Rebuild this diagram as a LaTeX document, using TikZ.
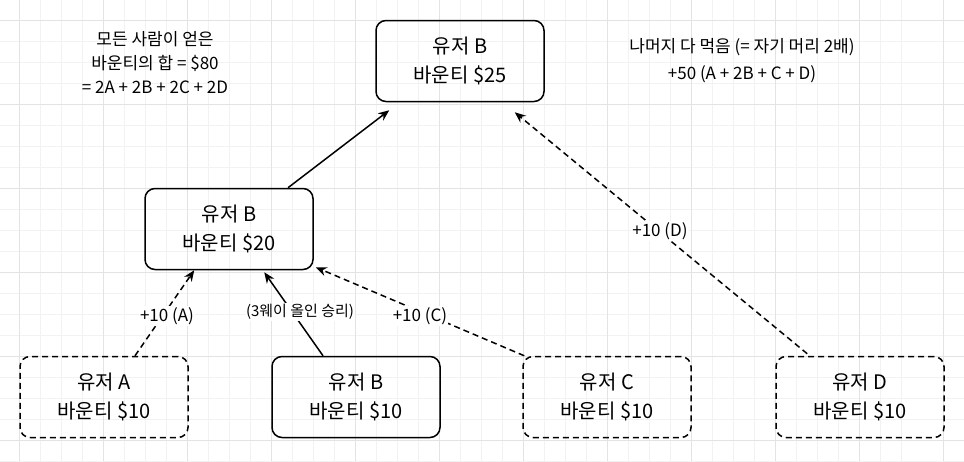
\documentclass[tikz,border=0pt]{standalone}
\usepackage{fontspec}
\setmainfont{Noto Sans CJK KR}
\usetikzlibrary{arrows.meta,calc}
\begin{document}
\begin{tikzpicture}[x=1pt,y=-1pt,
  box/.style={draw,line width=1.5pt,rounded corners=10pt,minimum width=168pt,minimum height=81pt,align=center,font=\fontsize{20}{29}\selectfont},
  dbox/.style={box,dash pattern=on 6pt off 4pt},
  arr/.style={line width=1.5pt,-{Stealth[length=11pt,width=9pt]}},
  darr/.style={arr,dash pattern=on 6pt off 4pt},
  lab/.style={fill=white,inner sep=1pt,font=\fontsize{17}{20}\selectfont}]
\useasboundingbox (0,0) rectangle (964,461);
\fill[white] (0,0) rectangle (964,461);
\foreach \x in {0,...,46} \draw[gray!10,line width=0.5pt] ({19+21*\x-84},0) -- ({19+21*\x-84},461);
\foreach \y in {0,...,23} \draw[gray!10,line width=0.5pt] (0,{20+21*\y-21}) -- (964,{20+21*\y-21});
\foreach \x in {0,...,11} \draw[gray!22,line width=0.6pt] ({19+84*\x},0) -- ({19+84*\x},461);
\foreach \y in {0,...,5} \draw[gray!22,line width=0.6pt] (0,{20+84*\y}) -- (964,{20+84*\y});
\node[box] (top) at (460,61) {유저 B\\바운티 \$25};
\node[box] (mid) at (229,229) {유저 B\\바운티 \$20};
\node[dbox] (a) at (104,397) {유저 A\\바운티 \$10};
\node[box] (b) at (356,397) {유저 B\\바운티 \$10};
\node[dbox] (c) at (607,397) {유저 C\\바운티 \$10};
\node[dbox] (d) at (860,397) {유저 D\\바운티 \$10};
\node[align=center,font=\fontsize{17}{24}\selectfont] (t1) at (155,63) {모든 사람이 얻은\\바운티의 합 = \$80\\= 2A + 2B + 2C + 2D};
\node[align=center,font=\fontsize{17}{27}\selectfont] (t2) at (742,61) {나머지 다 먹음 (= 자기 머리 2배)\\+50 (A + 2B + C + D)};
\draw[arr] ($(mid.north)+(59,0)$) -- ($(top.south west)+(14,8)$);
\draw[darr] ($(a.north)+(31,0)$) -- ($(mid.south west)+(50,0)$);
\node[lab] (la) at (167,316) {+10 (A)};
\draw[arr] ($(b.north)+(-33,0)$) -- ($(mid.south west)+(120,2)$);
\node[lab] (lb) at (300,312) {\fontsize{15}{18}\selectfont(3웨이 올인 승리)};
\draw[darr] ($(c.north west)+(2,0)$) -- ($(mid.south east)+(2,-3)$);
\node[lab] (lc) at (420,316) {+10 (C)};
\draw[darr] ($(d.north west)+(32,-2)$) -- ($(top.south east)+(-30,10)$);
\node[lab] (ld) at (660,231) {+10 (D)};
\end{tikzpicture}
\end{document}
